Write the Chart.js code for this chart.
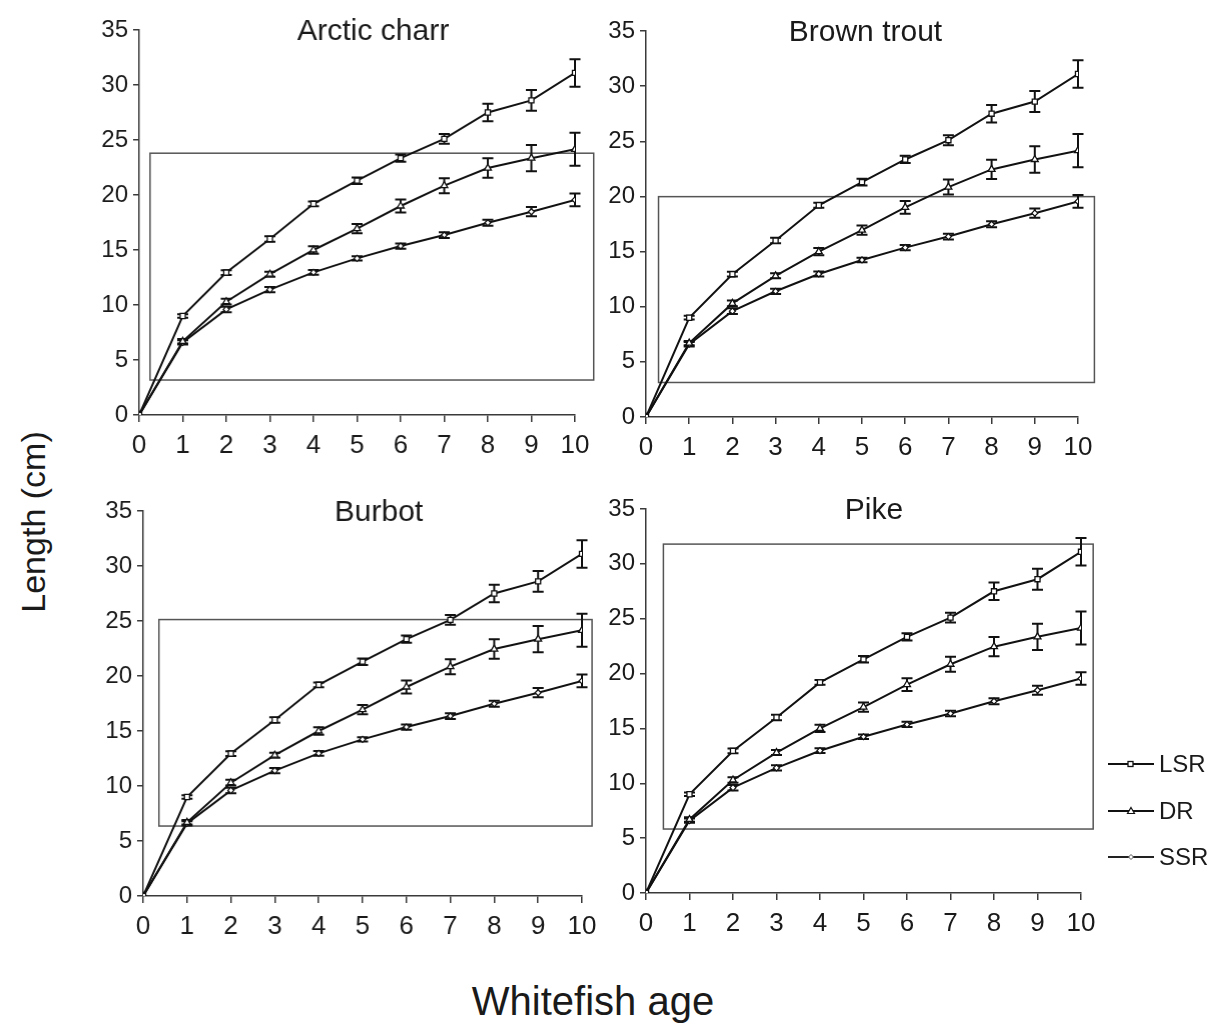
<!DOCTYPE html>
<html>
<head>
<meta charset="utf-8">
<script src="https://cdn.jsdelivr.net/npm/chart.js@4.4.1/dist/chart.umd.min.js"></script>
<style>
  body { margin: 0; background: #fff; width: 1224px; height: 1026px; position: relative; overflow: hidden; font-family: "Liberation Sans", Arial, sans-serif; color: #1a1a1a; }
  canvas.panel { position: absolute; }
  #ylab { position: absolute; left: 33px; top: 522px; transform: translate(-50%, -50%) rotate(-90deg); font-size: 34px; white-space: nowrap; }
  #xlab { position: absolute; left: 593px; top: 1001px; transform: translate(-50%, -50%); font-size: 40px; white-space: nowrap; }
  .leg { position: absolute; left: 1108px; font-size: 24px; display: flex; align-items: center; height: 30px; }
  .leg svg { margin-right: 3px; }
</style>
</head>
<body>
<canvas class="panel" id="c0"></canvas>
<canvas class="panel" id="c1"></canvas>
<canvas class="panel" id="c2"></canvas>
<canvas class="panel" id="c3"></canvas>
<div id="ylab">Length (cm)</div>
<div id="xlab">Whitefish age</div>

<div class="leg" style="top:749px"><svg width="48" height="10"><line x1="0" y1="5" x2="46" y2="5" stroke="#111" stroke-width="2"/><rect x="20" y="2.5" width="5" height="5" fill="#fff" stroke="#111" stroke-width="1.3"/></svg>LSR</div>
<div class="leg" style="top:796px"><svg width="48" height="10"><line x1="0" y1="5" x2="46" y2="5" stroke="#111" stroke-width="2"/><polygon points="23,1.5 26.5,7.5 19.5,7.5" fill="#fff" stroke="#111" stroke-width="1.2"/></svg>DR</div>
<div class="leg" style="top:842px"><svg width="48" height="10"><line x1="0" y1="5" x2="46" y2="5" stroke="#222" stroke-width="1.8"/><polygon points="23,2.5 25.5,5 23,7.5 20.5,5" fill="#fff" stroke="#555" stroke-width="1"/></svg>SSR</div>

<script>
// whitefish age (years)
const ages = [0, 1, 2, 3, 4, 5, 6, 7, 8, 9, 10];

// mean length (cm) and error bars, same curves in every panel
const lsrMean = [0, 9.0, 12.95, 16.0, 19.2, 21.3, 23.35, 25.1, 27.5, 28.6, 31.1];
const lsrErr  = [0, 0.17, 0.22, 0.25, 0.22, 0.3, 0.33, 0.45, 0.8, 0.95, 1.25];
const drMean  = [0, 6.7, 10.3, 12.8, 15.0, 16.95, 19.0, 20.85, 22.45, 23.35, 24.15];
const drErr   = [0, 0.2, 0.26, 0.23, 0.33, 0.42, 0.58, 0.68, 0.88, 1.2, 1.5];
const ssrMean = [0, 6.6, 9.6, 11.4, 12.97, 14.24, 15.36, 16.36, 17.48, 18.48, 19.55];
const ssrErr  = [0, 0.2, 0.25, 0.24, 0.22, 0.2, 0.24, 0.26, 0.27, 0.42, 0.58];

// panel titles (predator species) and the boxes drawn in each [x0, x1, y0, y1]
const species = ["Arctic charr", "Brown trout", "Burbot", "Pike"];
const boxes = [
  [0.25, 10.43, 3.18, 23.8],
  [0.29, 10.38, 3.13, 19.98],
  [0.36, 10.23, 6.36, 25.13],
  [0.40, 10.28, 5.83, 31.8]
];

const yTicks = [0, 5, 10, 15, 20, 25, 30, 35];

// where each plot area sits on the page (left, top, right, bottom) + title offset
const layout = [
  { l: 139.3, t: 30,    r: 574.7, b: 415,   tx: 5.37 },
  { l: 645.7, t: 31,    r: 1077.7, b: 417.3, tx: 5.08 },
  { l: 143.3, t: 510.7, r: 582,   b: 895.7, tx: 5.37 },
  { l: 645.7, t: 509,   r: 1081,  b: 893.3, tx: 5.24 }
];

const FONT = "'Liberation Sans', Arial, sans-serif";
const AXIS = "#3a3a3a";
const PADL = 70, PADT = 30, PADR = 28, PADB = 50;

const pts = (ys) => ages.map((a, i) => ({ x: a, y: ys[i] }));

// error bars + box, drawn under the lines
const extras = {
  id: "extras",
  beforeDatasetsDraw(chart, args, opts) {
    const { ctx, scales: { x, y } } = chart;
    ctx.save();
    // box
    const bx = opts.box;
    ctx.strokeStyle = "#555";
    ctx.lineWidth = 1.5;
    ctx.strokeRect(x.getPixelForValue(bx[0]), y.getPixelForValue(bx[3]),
      x.getPixelForValue(bx[1]) - x.getPixelForValue(bx[0]),
      y.getPixelForValue(bx[2]) - y.getPixelForValue(bx[3]));
    // error bars
    ctx.strokeStyle = "#111";
    ctx.lineWidth = 2;
    chart.data.datasets.forEach(ds => {
      ds.data.forEach((p, i) => {
        const e = ds.err[i];
        if (!e) return;
        const px = x.getPixelForValue(p.x);
        const y1 = y.getPixelForValue(p.y + e), y2 = y.getPixelForValue(p.y - e);
        ctx.beginPath();
        ctx.moveTo(px, y1); ctx.lineTo(px, y2);
        ctx.moveTo(px - 5.5, y1); ctx.lineTo(px + 5.5, y1);
        ctx.moveTo(px - 5.5, y2); ctx.lineTo(px + 5.5, y2);
        ctx.stroke();
      });
    });
    ctx.restore();
  },
  afterDraw(chart, args, opts) {
    const { ctx, chartArea, scales: { x } } = chart;
    ctx.save();
    ctx.font = "30px " + FONT;
    ctx.fillStyle = "#1a1a1a";
    ctx.textAlign = "center";
    ctx.textBaseline = "alphabetic";
    ctx.fillText(opts.title, x.getPixelForValue(opts.tx), chartArea.top + 10);
    ctx.restore();
  }
};

species.forEach((name, k) => {
  const L = layout[k];
  const cv = document.getElementById("c" + k);
  const w = (L.r - L.l) + PADL + PADR;
  const h = (L.b - L.t) + PADT + PADB;
  cv.style.left = (L.l - PADL) + "px";
  cv.style.top = (L.t - PADT) + "px";
  cv.style.width = w + "px";
  cv.style.height = h + "px";
  cv.width = w; cv.height = h;

  new Chart(cv, {
    type: "line",
    data: {
      datasets: [
        { label: "LSR", data: pts(lsrMean), err: lsrErr, pointStyle: "rect", pointRadius: 3.6,
          borderColor: "#111", borderWidth: 2, pointBackgroundColor: "#fff", pointBorderColor: "#111", pointBorderWidth: 1.3 },
        { label: "DR", data: pts(drMean), err: drErr, pointStyle: "triangle", pointRadius: 4,
          borderColor: "#111", borderWidth: 2, pointBackgroundColor: "#fff", pointBorderColor: "#111", pointBorderWidth: 1.3 },
        { label: "SSR", data: pts(ssrMean), err: ssrErr, pointStyle: "rectRot", pointRadius: 3,
          borderColor: "#111", borderWidth: 2, pointBackgroundColor: "#fff", pointBorderColor: "#111", pointBorderWidth: 1.2 }
      ]
    },
    options: {
      responsive: false,
      animation: false,
      layout: { padding: { top: PADT, right: PADR, left: 0, bottom: 0 } },
      elements: { line: { tension: 0 } },
      plugins: {
        legend: { display: false },
        tooltip: { enabled: false },
        extras: { box: boxes[k], title: name, tx: L.tx }
      },
      scales: {
        x: {
          type: "linear", min: 0, max: 10,
          afterFit: s => { s.height = PADB; },
          ticks: { stepSize: 1, font: { family: FONT, size: 26 }, color: "#1a1a1a", padding: 8 },
          grid: { drawOnChartArea: false, drawTicks: true, tickLength: 7, color: AXIS, lineWidth: 1.5 },
          border: { display: true, color: AXIS, width: 1.5 }
        },
        y: {
          type: "linear", min: 0, max: 35,
          afterFit: s => { s.width = PADL; },
          afterBuildTicks: s => { s.ticks = yTicks.map(v => ({ value: v })); },
          ticks: { font: { family: FONT, size: 24 }, color: "#1a1a1a", padding: 5 },
          grid: { drawOnChartArea: false, drawTicks: true, tickLength: 6, color: AXIS, lineWidth: 1.5 },
          border: { display: true, color: AXIS, width: 1.5 }
        }
      }
    },
    plugins: [extras]
  });
});
</script>
</body>
</html>
